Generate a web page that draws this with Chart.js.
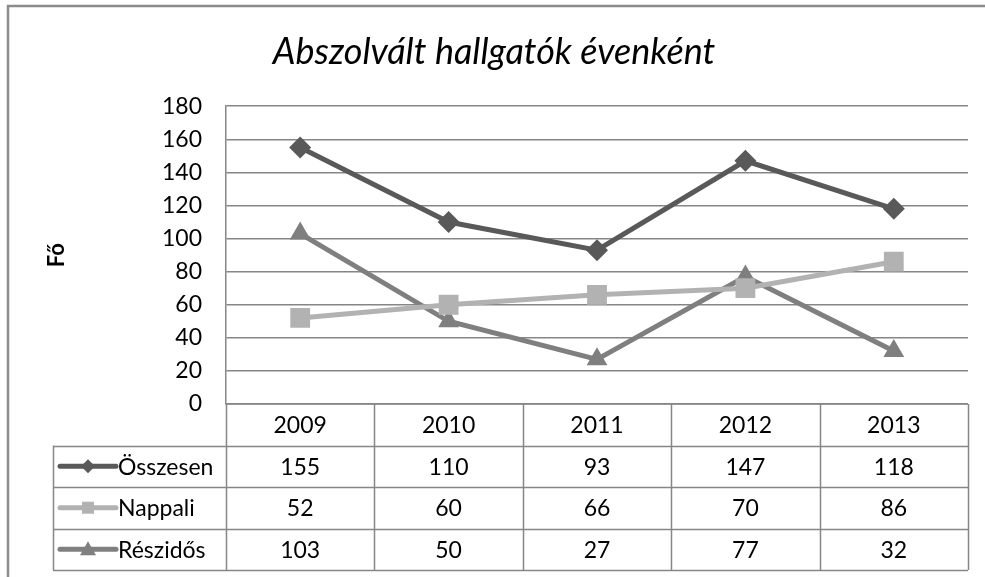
<!DOCTYPE html>
<html>
<head>
<meta charset="utf-8">
<script src="https://cdn.jsdelivr.net/npm/chart.js@4.4.1/dist/chart.umd.min.js"></script>
<style>
  html, body { margin: 0; padding: 0; background: #fff; }
  canvas { display: block; }
</style>
</head>
<body>
<canvas id="chart" width="985" height="577"></canvas>
<script>
const years = ['2009', '2010', '2011', '2012', '2013'];
const osszesen = [155, 110, 93, 147, 118];
const nappali = [52, 60, 66, 70, 86];
const reszidos = [103, 50, 27, 77, 32];

const gridColor = '#868686';
const font = 'Lato, "Open Sans", sans-serif';

const series = [
  { label: 'Összesen', data: osszesen, color: '#595959', style: 'rectRot', radius: 11 },
  { label: 'Nappali', data: nappali, color: '#b2b2b2', style: 'rect', radius: 14 },
  { label: 'Részidős', data: reszidos, color: '#7f7f7f', style: 'triangle', radius: 12 },
];

function drawKey(ctx, s, cx, cy) {
  ctx.strokeStyle = s.color;
  ctx.fillStyle = s.color;
  ctx.lineWidth = 5;
  ctx.lineCap = 'round';
  ctx.beginPath();
  ctx.moveTo(cx - 28, cy);
  ctx.lineTo(cx + 28, cy);
  ctx.stroke();
  ctx.beginPath();
  if (s.style === 'rectRot') {
    ctx.moveTo(cx, cy - 7); ctx.lineTo(cx + 7, cy); ctx.lineTo(cx, cy + 7); ctx.lineTo(cx - 7, cy);
  } else if (s.style === 'rect') {
    ctx.rect(cx - 6, cy - 6, 12, 12);
  } else {
    ctx.moveTo(cx, cy - 8); ctx.lineTo(cx + 8, cy + 6); ctx.lineTo(cx - 8, cy + 6);
  }
  ctx.closePath();
  ctx.fill();
}

const tablePlugin = {
  id: 'dataTable',
  beforeDraw(chart) {
    const ctx = chart.ctx;
    ctx.save();
    ctx.fillStyle = '#fff';
    ctx.fillRect(0, 0, chart.width, chart.height);
    ctx.strokeStyle = '#8c8c8c';
    ctx.lineWidth = 2.5;
    ctx.beginPath();
    ctx.moveTo(8, chart.height);
    ctx.lineTo(8, 6);
    ctx.lineTo(chart.width, 6);
    ctx.stroke();
    ctx.restore();
  },
  afterDraw(chart) {
    const { ctx, chartArea: a, scales: { x } } = chart;
    const colW = (a.right - a.left) / years.length;
    const rowH = 41.5;
    const top = a.bottom;
    const labelLeft = 53;
    const bottom = top + rowH * (series.length + 1);
    ctx.save();
    ctx.strokeStyle = gridColor;
    ctx.lineWidth = 1.5;
    ctx.beginPath();
    for (let r = 1; r <= series.length + 1; r++) {
      const y = Math.round(top + rowH * r) + 0.5;
      ctx.moveTo(labelLeft, y);
      ctx.lineTo(a.right, y);
    }
    ctx.moveTo(a.left, top);
    ctx.lineTo(a.right, top);
    for (let c = 0; c <= years.length; c++) {
      const xx = Math.round(a.left + colW * c) + 0.5;
      ctx.moveTo(xx, top);
      ctx.lineTo(xx, bottom);
    }
    ctx.moveTo(labelLeft + 0.5, top + rowH);
    ctx.lineTo(labelLeft + 0.5, bottom);
    ctx.stroke();

    ctx.fillStyle = '#000';
    ctx.font = '23px ' + font;
    ctx.textAlign = 'center';
    ctx.textBaseline = 'middle';
    years.forEach((yr, i) => {
      ctx.fillText(yr, x.getPixelForValue(i), top + rowH / 2 + 1);
    });
    series.forEach((s, r) => {
      const cy = top + rowH * (r + 1.5) + 1;
      s.data.forEach((v, i) => {
        ctx.fillStyle = '#000';
        ctx.textAlign = 'center';
        ctx.fillText(String(v), x.getPixelForValue(i), cy);
      });
      drawKey(ctx, s, 88, cy - 1);
      ctx.fillStyle = '#000';
      ctx.textAlign = 'left';
      ctx.fillText(s.label, 118, cy);
    });
    ctx.restore();
  }
};

new Chart(document.getElementById('chart'), {
  type: 'line',
  data: {
    labels: years,
    datasets: series.map(s => ({
      label: s.label,
      data: s.data,
      borderColor: s.color,
      backgroundColor: s.color,
      borderWidth: 5,
      pointStyle: s.style,
      pointRadius: s.radius,
      pointHoverRadius: s.radius,
      pointBorderWidth: 0,
      tension: 0,
    })),
  },
  options: {
    responsive: false,
    animation: false,
    events: [],
    layout: { padding: { left: 20, right: 17, top: 0, bottom: 173 } },
    plugins: {
      legend: { display: false },
      tooltip: { enabled: false },
      title: {
        display: true,
        text: 'Abszolvált hallgatók évenként',
        color: '#000',
        font: { family: font, size: 36, style: 'italic', weight: 'normal', lineHeight: 1.2 },
        padding: { top: 31, bottom: 32 },
      },
    },
    scales: {
      x: {
        display: false,
        offset: true,
      },
      y: {
        min: 0,
        max: 180,
        afterFit(scale) { scale.width = 206; },
        ticks: { stepSize: 20, padding: 24, color: '#000', font: { family: font, size: 23 } },
        grid: { color: gridColor, lineWidth: 1.5, drawTicks: false },
        border: { display: true, color: gridColor, width: 1.5 },
        title: {
          display: true,
          text: 'Fő',
          color: '#000',
          font: { family: font, size: 22, weight: 'bold' },
          padding: { top: 24, bottom: 0 },
        },
      },
    },
  },
  plugins: [tablePlugin],
});
</script>
</body>
</html>
